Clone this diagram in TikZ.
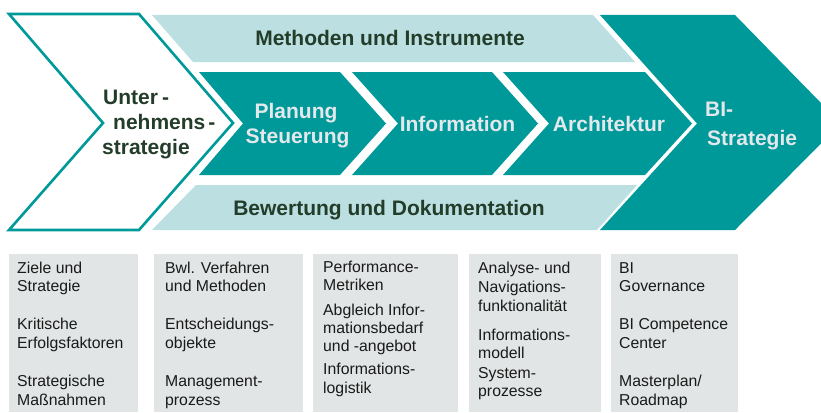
\documentclass[tikz,border=0pt]{standalone}
\usepackage{fontspec}
\setmainfont{Liberation Sans}
\definecolor{tealmain}{HTML}{009999}
\definecolor{lightband}{HTML}{BCE0E2}
\definecolor{graybox}{HTML}{E2E5E5}
\definecolor{darktext}{HTML}{243D2A}
\definecolor{lighttext}{HTML}{E3E8EC}
\definecolor{boxtext}{HTML}{1A1A1A}
\begin{document}
\begin{tikzpicture}[x=1pt,y=-1pt,
  boldlbl/.style={font=\fontsize{21}{25}\selectfont\bfseries, inner sep=0},
  darklbl/.style={boldlbl, text=darktext},
  lightlbl/.style={boldlbl, text=lighttext},
  boxtxt/.style={font=\fontsize{15.8}{18.5}\selectfont, text=boxtext, inner sep=0, align=left, anchor=base west},
  widetxt/.style={font=\fontsize{15.8}{19.3}\selectfont},
  tighttxt/.style={font=\fontsize{15.8}{18.3}\selectfont},
  grayrect/.style={fill=graybox},
  tealshape/.style={fill=tealmain},
  bandshape/.style={fill=lightband}]
\clip (0,0) rectangle (821,412);
\fill[white] (0,0) rectangle (821,412);

% left white chevron
\draw[tealmain, line width=2.6pt, fill=white, line join=miter]
  (9,14) -- (139,14) -- (233,123) -- (139,230) -- (9,230) -- (103,123) -- cycle;

% top and bottom bands
\fill[bandshape] (152,15) -- (593,15) -- (635,62) -- (193,62) -- cycle;
\fill[bandshape] (196,185) -- (637,185) -- (597,230) -- (152,230) -- cycle;

% middle chevrons
\fill[tealshape] (199,72) -- (340,72) -- (386,123.5) -- (340,175) -- (199,175) -- (243,123.5) -- cycle;
\fill[tealshape] (352,72) -- (492,72) -- (538,123.5) -- (492,175) -- (352,175) -- (398,123.5) -- cycle;
\fill[tealshape] (503,72) -- (645,72) -- (692,123.5) -- (645,175) -- (503,175) -- (549,123.5) -- cycle;

% BI strategy chevron
\fill[tealshape] (600,15) -- (735,15) -- (841,123.5) -- (735,230) -- (600,230) -- (697,123.5) -- cycle;

% labels
\node[darklbl, anchor=base] (methoden) at (390,45.7) {Methoden und Instrumente};
\node[darklbl, anchor=base] (bewertung) at (389,215) {Bewertung und Dokumentation};
\node[darklbl, anchor=base west] (unter1) at (103,104) {Unter\hspace{4pt}-};
\node[darklbl, anchor=base west] (unter2) at (113,129) {nehmens\hspace{3pt}-};
\node[darklbl, anchor=base west] (unter3) at (102,154) {strategie};
\node[lightlbl, anchor=base] (planung) at (296,118.3) {Planung};
\node[lightlbl, anchor=base] (steuerung) at (297.5,143.3) {Steuerung};
\node[lightlbl, anchor=base] (information) at (457.5,131.7) {Information};
\node[lightlbl, anchor=base] (architektur) at (609,131.7) {Architektur};
\node[lightlbl, anchor=base west] (bi1) at (705,116.7) {BI-};
\node[lightlbl, anchor=base west] (bi2) at (707,145) {Strategie};

% gray boxes
\fill[grayrect] (9,254) rectangle (138,412);
\fill[grayrect] (154,254) rectangle (303,412);
\fill[grayrect] (313,254) rectangle (458,412);
\fill[grayrect] (469,254) rectangle (601,412);
\fill[grayrect] (611,254) rectangle (738,412);

% box texts (anchored at the baseline of the last line)
\node[boxtxt] (a1) at (17,291.7) {Ziele und\\Strategie};
\node[boxtxt] (a2) at (17,348.2) {Kritische\\Erfolgsfaktoren};
\node[boxtxt] (a3) at (17,405.2) {Strategische\\Maßnahmen};

\node[boxtxt] (b1) at (165,291.7) {Bwl. Verfahren\\und Methoden};
\node[boxtxt] (b2) at (165,348.2) {Entscheidungs-\\objekte};
\node[boxtxt] (b3) at (165,405.2) {Management-\\prozess};

\node[boxtxt] (c1) at (323,290.5) {Performance-\\Metriken};
\node[boxtxt, tighttxt] (c2) at (323,351.7) {Abgleich Infor-\\mationsbedarf\\und -angebot};
\node[boxtxt] (c3) at (323,393.4) {Informations-\\logistik};

\node[boxtxt, widetxt] (d1) at (478,311.6) {Analyse- und\\Navigations-\\funktionalität};
\node[boxtxt] (d2) at (478,358.8) {Informations-\\modell};
\node[boxtxt] (d3) at (478,396.7) {System-\\prozesse};

\node[boxtxt] (e1) at (619,291.5) {BI\\Governance};
\node[boxtxt] (e2) at (619,348.3) {BI Competence\\Center};
\node[boxtxt] (e3) at (619,405.2) {Masterplan/\\Roadmap};
\end{tikzpicture}
\end{document}
